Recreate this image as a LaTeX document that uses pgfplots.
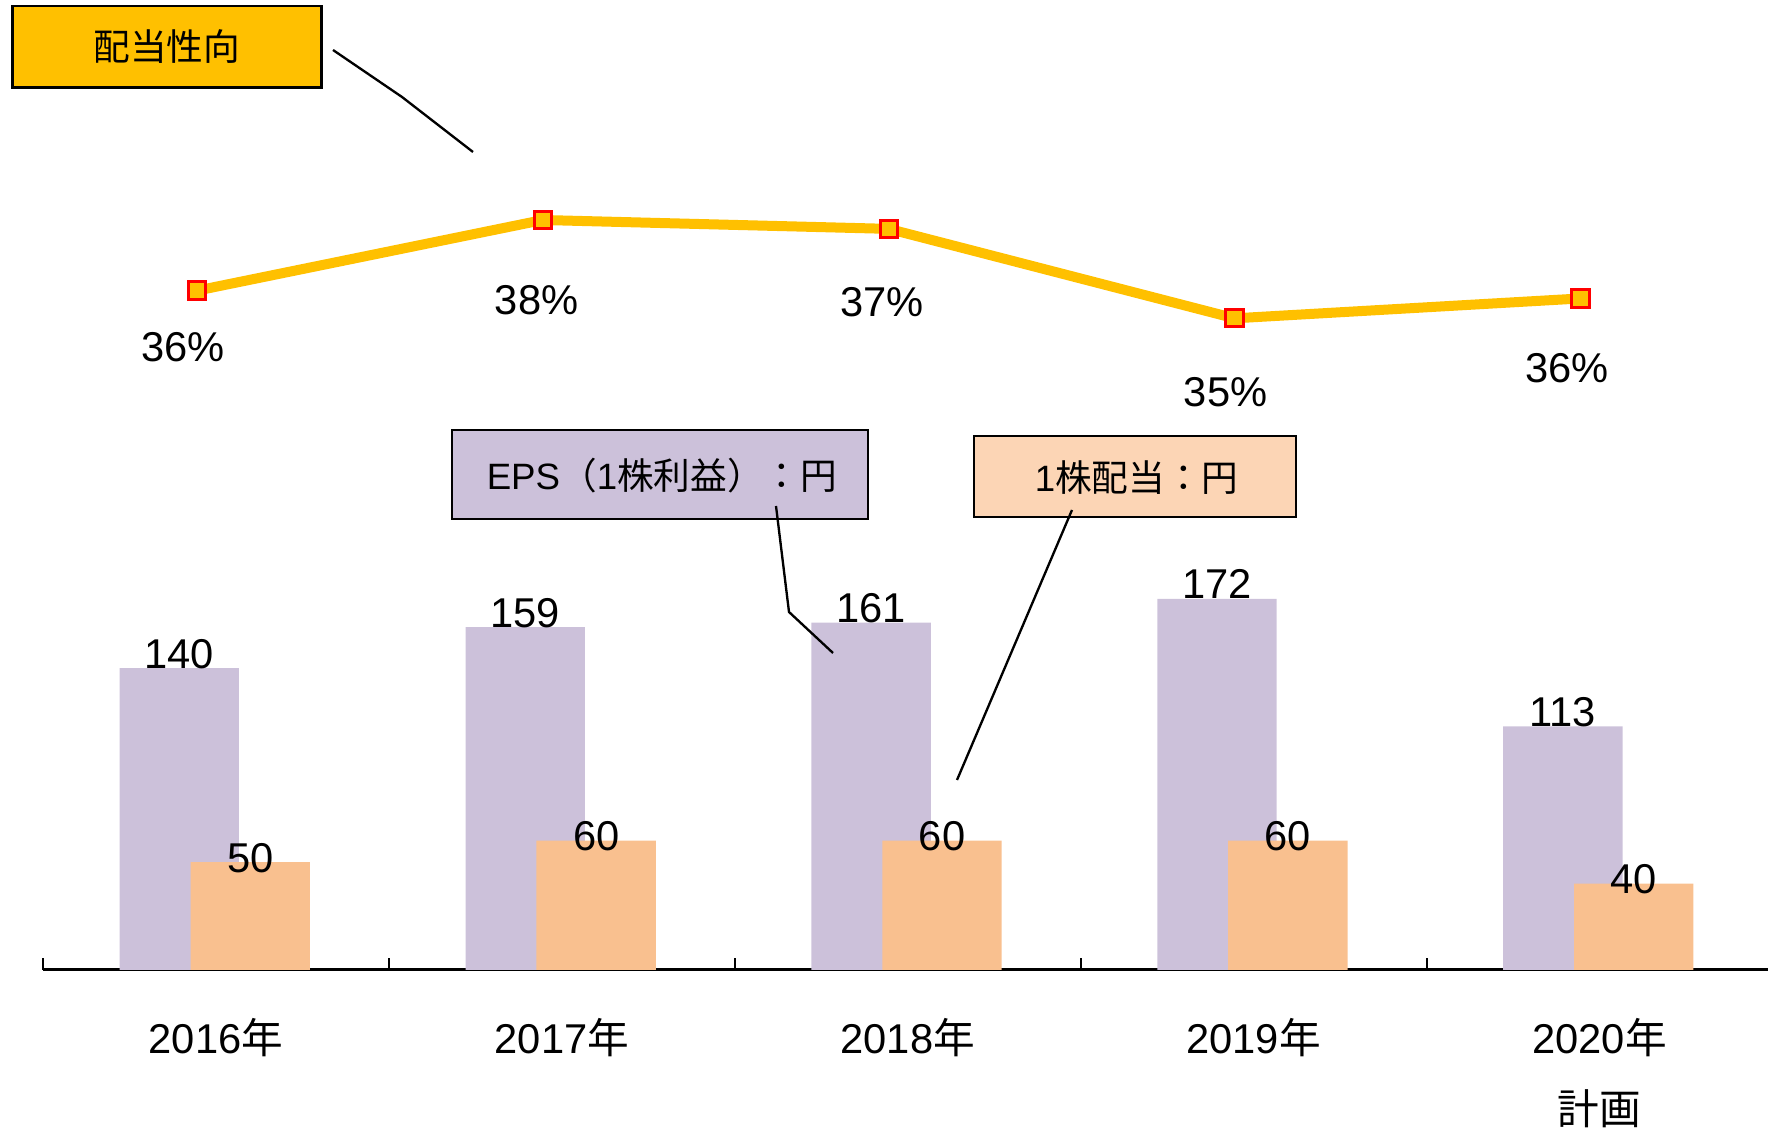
\documentclass[border=0pt]{standalone}
\usepackage{fontspec}
\setmainfont{Liberation Sans}
\newfontfamily\cjk{Noto Sans CJK JP}
\usepackage{pgfplots}
\pgfplotsset{compat=1.18}

\definecolor{epsc}{RGB}{204,193,218}
\definecolor{divc}{RGB}{249,192,143}
\definecolor{divbox}{RGB}{252,213,181}
\definecolor{gold}{RGB}{255,192,0}

\begin{document}
\begin{tikzpicture}
\useasboundingbox (0,0) rectangle (530.4pt,339.6pt);

% bars: EPS and dividend per share
\begin{axis}[
    at={(12.9pt,48.6pt)}, anchor=south west,
    scale only axis, width=518.85pt, height=129.42pt,
    xmin=-0.5, xmax=4.5, ymin=0, ymax=200,
    clip=false,
    axis x line=bottom, axis y line=none,
    x axis line style={-, black, line width=0.9pt},
    xtick={-0.5,0.5,1.5,2.5,3.5,4.5},
    x tick label as interval,
    xticklabels={{2016{\cjk 年}},{2017{\cjk 年}},{2018{\cjk 年}},{2019{\cjk 年}},{2020{\cjk 年}\\{\cjk 計画}}},
    xtick align=inside, major tick length=3.6pt,
    tick style={black, line width=0.6pt},
    xticklabel style={font=\fontsize{12.5}{21.3}\selectfont, align=center, anchor=north, inner sep=0pt, yshift=-14.4pt},
    /pgf/number format/assume math mode=true,
    nodes near coords,
    every node near coord/.append style={font=\fontsize{12.5}{15}\selectfont, anchor=base, inner sep=0pt, text=black},
]
\addplot[ybar, bar width=0.345, bar shift=-0.106, fill=epsc, draw=none,
    every node near coord/.append style={xshift=-11pt}] coordinates {(0,140) (1,159) (2,161) (3,172) (4,113)};
\addplot[ybar, bar width=0.345, bar shift=0.099, fill=divc, draw=none,
    every node near coord/.append style={xshift=10.3pt, yshift=-3pt}] coordinates {(0,50) (1,60) (2,60) (3,60) (4,40)};
\end{axis}

% payout ratio line
\begin{axis}[
    at={(12.9pt,191.7pt)}, anchor=south west,
    scale only axis, width=518.85pt, height=106.5pt,
    xmin=-0.445, xmax=4.555, ymin=30, ymax=40,
    clip=false, hide axis,
]
\addplot[color=gold, line width=3pt, mark=square*, mark size=2.6pt,
    mark options={fill=gold, draw=red, line width=0.9pt}]
    coordinates {(0,35.7) (1,37.69) (2,37.44) (3,34.92) (4,35.48)};
\addplot[draw=none, nodes near coords, point meta=explicit symbolic,
    every node near coord/.append style={font=\fontsize{12.5}{15}\selectfont, anchor=center, inner sep=0pt}]
    coordinates {(-0.04,34.10)[36\%] (0.982,35.44)[38\%] (1.98,35.37)[37\%] (2.974,32.84)[35\%] (3.961,33.52)[36\%]};
\end{axis}

% callouts
\draw[line width=0.75pt, fill=gold] (3.8pt,313.3pt) rectangle (96.45pt,337.8pt);
\node[font={\fontsize{11}{13}\selectfont\cjk}] at (50.1pt,325.5pt) {配当性向};
\draw[line width=0.7pt] (99.9pt,324.6pt) -- (120.6pt,310.5pt) -- (141.9pt,294.0pt);

\draw[line width=0.75pt, fill=epsc] (135.6pt,183.9pt) rectangle (260.4pt,210.6pt);
\node[font=\fontsize{11}{13}\selectfont] at (198.6pt,197.0pt) {EPS{\cjk （}1{\cjk 株利益）：円}};
\draw[line width=0.7pt] (232.8pt,187.8pt) -- (236.7pt,156.0pt) -- (249.9pt,143.7pt);

\draw[line width=0.75pt, fill=divbox] (292.2pt,184.5pt) rectangle (388.8pt,208.8pt);
\node[font=\fontsize{11}{13}\selectfont] at (341.0pt,196.4pt) {1{\cjk 株配当：円}};
\draw[line width=0.7pt] (321.6pt,186.6pt) -- (287.1pt,105.6pt);
\end{tikzpicture}
\end{document}
